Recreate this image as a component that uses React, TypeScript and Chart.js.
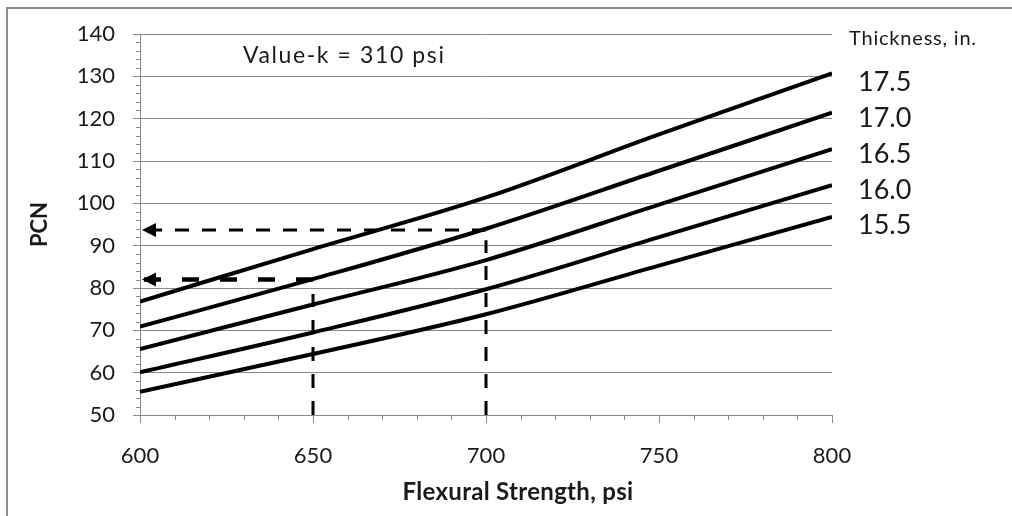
import React, { useEffect, useRef } from "react";
import { Chart, registerables } from "chart.js";

Chart.register(...registerables);

// ---- data ----
const strength = [600, 650, 700, 750, 800];
const pcn175 = [76.8, 89.2, 101.4, 116.3, 130.7];
const pcn170 = [70.9, 82.1, 94.0, 107.7, 121.4];
const pcn165 = [65.6, 76.1, 86.6, 99.7, 112.8];
const pcn160 = [60.1, 69.5, 79.7, 92.0, 104.3];
const pcn155 = [55.5, 64.4, 73.8, 85.3, 96.8];
const thicknessLabels = ["17.5", "17.0", "16.5", "16.0", "15.5"];
const curveSeries = [pcn175, pcn170, pcn165, pcn160, pcn155];

// example reading lines (x, y pairs)
const example1Horizontal = [
  { x: 700, y: 93.7 },
  { x: 600, y: 93.7 },
];
const example1Vertical = [
  { x: 700, y: 50 },
  { x: 700, y: 91.3 },
];
const example2Horizontal = [
  { x: 650, y: 82 },
  { x: 600, y: 82 },
];
const example2Vertical = [
  { x: 650, y: 50 },
  { x: 650, y: 78.6 },
];

const GRID = "#8a8a8a";
const TEXT = "#1a1a1a";
const FONT = "Lato, 'Open Sans', sans-serif";

const decorPlugin = {
  id: "decor",
  afterDatasetsDraw(chart: any) {
    const ctx = chart.ctx;
    const xs = chart.scales.x;
    const ys = chart.scales.y;
    ctx.save();
    ctx.strokeStyle = GRID;
    ctx.lineWidth = 1;
    // minor ticks on the y axis (every 2)
    for (let v = ys.min + 2; v < ys.max; v += 2) {
      if (v % 10 === 0) continue;
      const py = Math.round(ys.getPixelForValue(v)) + 0.5;
      ctx.beginPath();
      ctx.moveTo(xs.left - 4, py);
      ctx.lineTo(xs.left, py);
      ctx.stroke();
    }
    // minor ticks on the x axis (every 10)
    for (let v = xs.min + 10; v < xs.max; v += 10) {
      if (v % 50 === 0) continue;
      const px = Math.round(xs.getPixelForValue(v)) + 0.5;
      ctx.beginPath();
      ctx.moveTo(px, ys.bottom);
      ctx.lineTo(px, ys.bottom + 5);
      ctx.stroke();
    }
    // arrowheads at the end of the horizontal reading lines
    chart.data.datasets.forEach((ds: any, i: number) => {
      if (!ds.arrow) return;
      const meta = chart.getDatasetMeta(i);
      const end = meta.data[meta.data.length - 1];
      ctx.fillStyle = "#000";
      ctx.beginPath();
      ctx.moveTo(end.x + 2, end.y);
      ctx.lineTo(end.x + 16, end.y - 7);
      ctx.lineTo(end.x + 16, end.y + 7);
      ctx.closePath();
      ctx.fill();
    });
    ctx.restore();
  },
};

export default function App() {
  const canvasRef = useRef<HTMLCanvasElement | null>(null);

  useEffect(() => {
    if (!canvasRef.current) return;
    const curveDatasets = curveSeries.map((arr, idx) => ({
      label: thicknessLabels[idx],
      data: strength.map((x, i) => ({ x, y: arr[i] })),
      borderColor: "#000",
      borderWidth: 4,
      pointRadius: 0,
      fill: false,
      cubicInterpolationMode: "monotone" as const,
      order: 2,
    }));
    const dashed = (data: any[], width: number, dash: number[], arrow: boolean) => ({
      label: "reading",
      data,
      borderColor: "#000",
      borderWidth: width,
      borderDash: dash,
      pointRadius: 0,
      fill: false,
      tension: 0,
      arrow,
      order: 1,
    });
    const chart = new Chart(canvasRef.current, {
      type: "line",
      data: {
        datasets: [
          dashed(example1Horizontal, 3, [14, 13], true),
          dashed(example1Vertical, 3, [14, 13], false),
          dashed(example2Horizontal, 4.5, [17, 21], true),
          dashed(example2Vertical, 3, [14, 13], false),
          ...curveDatasets,
        ] as any,
      },
      options: {
        animation: false,
        responsive: false,
        devicePixelRatio: 1,
        layout: { padding: { left: 0, top: 34, right: 180, bottom: 0 } },
        plugins: {
          legend: { display: false },
          tooltip: { enabled: false },
        },
        scales: {
          x: {
            type: "linear",
            min: 600,
            max: 800,
            ticks: {
              stepSize: 50,
              color: TEXT,
              font: { family: FONT, size: 22 },
              padding: 20,
            },
            grid: {
              drawOnChartArea: false,
              drawTicks: true,
              tickLength: 8,
              tickColor: GRID,
              color: GRID,
            },
            border: { display: true, color: GRID, width: 1 },
            afterFit: (scale: any) => {
              scale.height = 101;
            },
          },
          y: {
            type: "linear",
            min: 50,
            max: 140,
            ticks: {
              stepSize: 10,
              color: TEXT,
              font: { family: FONT, size: 22 },
              padding: 18,
            },
            grid: {
              color: GRID,
              drawTicks: true,
              tickLength: 7,
              tickColor: GRID,
            },
            border: { display: true, color: GRID, width: 1 },
            title: {
              display: true,
              text: "PCN",
              color: TEXT,
              font: { family: FONT, size: 22, weight: "bold" },
              padding: { top: 27, bottom: 0 },
            },
            afterFit: (scale: any) => {
              scale.width = 140;
            },
          },
        },
      },
      plugins: [decorPlugin],
    });
    return () => chart.destroy();
  }, []);

  const labelTops = [81, 117, 153, 189, 224];

  return (
    <div
      style={{
        position: "fixed",
        left: 0,
        top: 0,
        width: 1012,
        height: 516,
        background: "#fff",
        overflow: "hidden",
        fontFamily: FONT,
        color: TEXT,
      }}
    >
      <div
        style={{
          position: "absolute",
          left: 6,
          top: 7,
          width: 1100,
          height: 600,
          borderLeft: "2px solid #8c8c8c",
          borderTop: "2px solid #8c8c8c",
        }}
      />
      <canvas ref={canvasRef} width={1012} height={516} style={{ position: "absolute", left: 0, top: 0 }} />
      <div
        style={{
          position: "absolute",
          left: 243,
          top: 55 - 0.53 * 23,
          fontSize: 23,
          letterSpacing: 1.6,
          lineHeight: 1,
          whiteSpace: "nowrap",
        }}
      >
        Value-k = 310 psi
      </div>
      <div
        style={{
          position: "absolute",
          left: 849,
          top: 37.5 - 0.53 * 20,
          fontSize: 20,
          letterSpacing: 0.8,
          lineHeight: 1,
          whiteSpace: "nowrap",
        }}
      >
        Thickness, in.
      </div>
      {thicknessLabels.map((t, i) => (
        <div
          key={t}
          style={{ position: "absolute", left: 858, top: labelTops[i] - 0.53 * 27, fontSize: 27, lineHeight: 1, whiteSpace: "nowrap" }}
        >
          {t}
        </div>
      ))}
      <div
        style={{
          position: "absolute",
          left: 318,
          width: 400,
          textAlign: "center",
          top: 491.5 - 0.53 * 24,
          fontSize: 24,
          letterSpacing: 0.3,
          fontWeight: "bold",
          lineHeight: 1,
          whiteSpace: "nowrap",
        }}
      >
        Flexural Strength, psi
      </div>
    </div>
  );
}
